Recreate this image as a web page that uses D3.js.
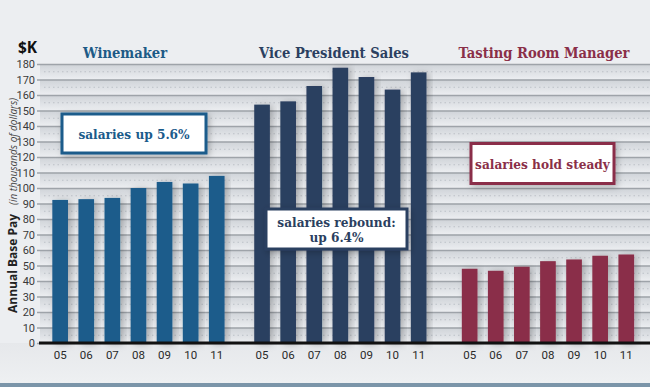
<!DOCTYPE html>
<html>
<head>
<meta charset="utf-8">
<script src="https://cdnjs.cloudflare.com/ajax/libs/d3/7.8.5/d3.min.js"></script>
<style>
  html, body { margin: 0; padding: 0; background: #eceef1; }
  svg { display: block; }
</style>
</head>
<body>
<svg id="chart" width="650" height="387"></svg>
<script>
// ---- data ----
const years = ["05", "06", "07", "08", "09", "10", "11"];
const groups = ["Winemaker", "Vice President Sales", "Tasting Room Manager"];
const winemaker = [92.3, 92.8, 93.6, 100, 103.9, 102.9, 107.8];
const vpSales = [153.8, 155.9, 165.8, 177.6, 171.6, 163.5, 174.6];
const tastingRoom = [47.9, 46.6, 49.2, 52.8, 53.9, 56.3, 57.1];
const yTicks = [0, 10, 20, 30, 40, 50, 60, 70, 80, 90, 100, 110, 120, 130, 140, 150, 160, 170, 180];
const notes = [["salaries up 5.6%"], ["salaries rebound:", "up 6.4%"], ["salaries hold steady"]];

// ---- layout / style ----
const W = 650, H = 387;
const plotLeft = 40, plotRight = 650;
const colors = ["#1b5b8b", "#2b3f60", "#8a2f48"];
const titleColors = ["#1d5a86", "#2b3f60", "#8a2f48"];
const groupRanges = [[47.1, 229.8], [249, 431.7], [456.6, 639.3]];
const titleX = [125, 334, 544];
const series = [winemaker, vpSales, tastingRoom];

const svg = d3.select("#chart");
const defs = svg.append("defs");

const grad = defs.append("linearGradient").attr("id", "band").attr("x1", 0).attr("y1", 0).attr("x2", 0).attr("y2", 1);
grad.append("stop").attr("offset", "0%").attr("stop-color", "#cfd3d8");
grad.append("stop").attr("offset", "100%").attr("stop-color", "#eceef1");

const bgGrad = defs.append("linearGradient").attr("id", "below").attr("x1", 0).attr("y1", 0).attr("x2", 0).attr("y2", 1);
bgGrad.append("stop").attr("offset", "0%").attr("stop-color", "#e6e8eb");
bgGrad.append("stop").attr("offset", "100%").attr("stop-color", "#eef0f2");

const sh = defs.append("filter").attr("id", "shadow").attr("x", "-40%").attr("y", "-10%").attr("width", "180%").attr("height", "120%");
sh.append("feDropShadow").attr("dx", 3).attr("dy", 1).attr("stdDeviation", 3.5).attr("flood-color", "#000").attr("flood-opacity", 0.25);

const bsh = defs.append("filter").attr("id", "boxshadow").attr("x", "-20%").attr("y", "-30%").attr("width", "140%").attr("height", "160%");
bsh.append("feDropShadow").attr("dx", 2).attr("dy", 2).attr("stdDeviation", 3).attr("flood-color", "#000").attr("flood-opacity", 0.25);

svg.append("rect").attr("width", W).attr("height", H).attr("fill", "#eceef1");

const y = d3.scaleLinear().domain([0, 180]).range([343, 64]);

svg.append("rect").attr("x", 0).attr("y", y(0)).attr("width", W).attr("height", 383 - y(0)).attr("fill", "url(#below)");

// bands
const bandG = svg.append("g");
bandG.selectAll("rect").data(yTicks.slice(0, -1)).join("rect")
  .attr("x", plotLeft).attr("width", plotRight - plotLeft)
  .attr("y", d => y(d + 10)).attr("height", d => y(d) - y(d + 10))
  .attr("fill", "url(#band)");

// dotted mid lines
bandG.selectAll("line.mid").data(yTicks.slice(0, -1)).join("line")
  .attr("class", "mid")
  .attr("x1", plotLeft + 4).attr("x2", plotRight)
  .attr("y1", d => y(d + 5)).attr("y2", d => y(d + 5))
  .attr("stroke", "#bcc1c7").attr("stroke-width", 1).attr("stroke-dasharray", "1.5,3");

// y axis
const yAxis = d3.axisLeft(y).tickValues(yTicks).tickSize(-(plotRight - plotLeft)).tickPadding(6);
const yg = svg.append("g").attr("transform", `translate(${plotLeft},0)`).call(yAxis);
yg.select(".domain").remove();
yg.selectAll(".tick line").attr("stroke", "#9ea3a9").attr("stroke-width", 1.3).attr("x1", -3);
yg.selectAll(".tick text").attr("fill", "#3a3a3a").style("font-family", "Roboto, 'Open Sans', sans-serif").style("font-size", "11px").attr("x", -5);

// bars
groups.forEach((g, gi) => {
  const x = d3.scaleBand().domain(years).range(groupRanges[gi]).paddingInner(0.4).paddingOuter(0.2);
  const gg = svg.append("g");
  gg.selectAll("rect").data(series[gi]).join("rect")
    .attr("x", (d, i) => x(years[i]))
    .attr("width", x.bandwidth())
    .attr("y", d => y(d))
    .attr("height", d => y(0) - y(d))
    .attr("fill", colors[gi])
    .attr("filter", "url(#shadow)");

  const xAxis = d3.axisBottom(x).tickSize(0).tickPadding(8);
  const xg = svg.append("g").attr("transform", `translate(0,${y(0)})`).call(xAxis);
  xg.select(".domain").remove();
  xg.selectAll(".tick text").attr("fill", "#2a2a2a").style("font-family", "Roboto, 'Open Sans', sans-serif").style("font-size", "11.5px");

  // title
  svg.append("text").attr("x", titleX[gi]).attr("y", 57.5)
    .attr("text-anchor", "middle")
    .attr("fill", titleColors[gi])
    .style("font-family", "'DejaVu Serif Condensed', 'DejaVu Serif', serif")
    .style("font-stretch", "condensed")
    .style("font-weight", "bold")
    .style("font-size", "14.6px")
    .text(g);
});

// zero line
svg.append("line").attr("x1", 39).attr("x2", plotRight).attr("y1", y(0)).attr("y2", y(0))
  .attr("stroke", "#111").attr("stroke-width", 3);

// annotation boxes
const boxes = [
  { x: 62, y: 114, w: 144, h: 39 },
  { x: 266, y: 209, w: 141, h: 40 },
  { x: 471, y: 143.5, w: 143, h: 40 }
];
boxes.forEach((b, i) => {
  svg.append("rect").attr("x", b.x).attr("y", b.y).attr("width", b.w).attr("height", b.h)
    .attr("fill", "#fff").attr("stroke", colors[i]).attr("stroke-width", 3)
    .attr("filter", "url(#boxshadow)");
  const lines = notes[i];
  const t = svg.append("text").attr("text-anchor", "middle")
    .attr("fill", colors[i])
    .style("font-family", "'DejaVu Serif Condensed', 'DejaVu Serif', serif")
    .style("font-stretch", "condensed")
    .style("font-weight", "bold")
    .style("font-size", "13.5px");
  const lh = 15;
  const startY = b.y + b.h / 2 - (lines.length - 1) * lh / 2 + 5;
  lines.forEach((l, j) => {
    t.append("tspan").attr("x", b.x + b.w / 2).attr("y", startY + j * lh).text(l);
  });
});

// $K
svg.append("text").attr("x", 18).attr("y", 53).attr("fill", "#111")
  .style("font-family", "'Open Sans', 'DejaVu Sans', sans-serif").style("font-weight", "bold").style("font-size", "15.5px")
  .text("$K");

// y label
const yl = svg.append("text").attr("transform", "translate(17,313) rotate(-90)")
  .attr("fill", "#222").style("font-family", "'Open Sans', 'DejaVu Sans', sans-serif");
yl.append("tspan").style("font-weight", "bold").style("font-size", "12px").text("Annual Base Pay");
yl.append("tspan").attr("dx", 9).style("font-style", "italic").style("font-size", "10px").attr("fill", "#444").text("(in thousands of dollars)");

// bottom strip
svg.append("rect").attr("x", 0).attr("y", 383).attr("width", W).attr("height", 4).attr("fill", "#7b95a9");
</script>
</body>
</html>
